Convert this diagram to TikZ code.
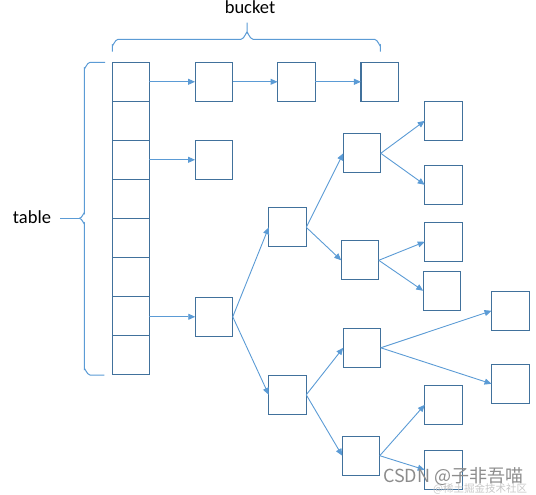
\documentclass[tikz,border=0pt]{standalone}
\usepackage{fontspec}
\setmainfont{Carlito}
\newfontfamily\cjkfont{Noto Sans CJK SC}
\usetikzlibrary{arrows.meta}
\definecolor{boxcol}{HTML}{41719C}
\definecolor{arrcol}{HTML}{5B9BD5}
\definecolor{wmcol}{HTML}{8C8C8C}
\definecolor{wmlight}{HTML}{C8C8C8}
\tikzset{
  bx/.style={draw=boxcol, line width=1.1pt, minimum width=37.5pt, minimum height=39pt, inner sep=0pt, outer sep=0pt},
  cell/.style={draw=boxcol, line width=1.1pt, minimum width=37pt, minimum height=39pt, inner sep=0pt, outer sep=0pt},
  arr/.style={draw=arrcol, line width=0.9pt, -{Triangle[length=7pt,width=6pt]}},
  brc/.style={draw=arrcol, line width=1pt},
  lbl/.style={font=\fontsize{18.5}{20}\selectfont, inner sep=0pt}
}
\begin{document}
\begin{tikzpicture}[x=1pt,y=-1pt]
\useasboundingbox (0,0) rectangle (536,495);
% table cells
\foreach \i in {1,...,8} {
  \node[cell] (T\i) at (130.8, {81.8+39*(\i-1)}) {};
}
% buckets
\node[bx] (R1a) at (213.8,81.8) {};
\node[bx] (R1b) at (296.3,81.8) {};
\node[bx] (R1c) at (379.7,81.8) {};
\node[bx] (R3) at (213.8,159.8) {};
\node[bx] (R7) at (214,316.8) {};
% tree
\node[bx] (A) at (287.5,227.3) {};
\node[bx] (F) at (287.5,394.8) {};
\node[bx] (B) at (362,153.3) {};
\node[bx] (C) at (360,260.3) {};
\node[bx] (G) at (362,347.8) {};
\node[bx] (H) at (361,455.7) {};
\node[bx] (D1) at (443.5,120.8) {};
\node[bx] (D2) at (443.5,184.8) {};
\node[bx] (D3) at (443.5,241.8) {};
\node[bx] (D4) at (442,290.8) {};
\node[bx] (E1) at (510.3,310.8) {};
\node[bx] (E2) at (510.3,383.8) {};
\node[bx] (H1) at (443.5,404.8) {};
\node[bx] (H2) at (443.5,469.8) {};
% arrows
\draw[arr] (T1.east) -- (R1a.west);
\draw[arr] (R1a.east) -- (R1b.west);
\draw[arr] (R1b.east) -- (R1c.west);
\draw[arr] (T3.east) -- (R3.west);
\draw[arr] (T7.east |- R7.west) -- (R7.west);
\draw[arr] (R7.east) -- (A.west);
\draw[arr] (R7.east) -- (F.west);
\draw[arr] (A.east) -- (B.west);
\draw[arr] (A.east) -- (C.west);
\draw[arr] (B.east) -- (D1.west);
\draw[arr] (B.east) -- (D2.west);
\draw[arr] (C.east) -- (D3.west);
\draw[arr] (C.east) -- (D4.west);
\draw[arr] (F.east) -- (G.west);
\draw[arr] (F.east) -- (H.west);
\draw[arr] (G.east) -- (E1.west);
\draw[arr] (G.east) -- (E2.west);
\draw[arr] (H.east) -- (H1.west);
\draw[arr] (H.east) -- (H2.west);
% bucket brace
\draw[brc] (112.3,51.7) -- (112.3,45) to[out=-90,in=180] (118,39.3) -- (241,39.3)
  to[out=0,in=90] (247,33) -- (247,22.7);
\draw[brc] (380.3,51.7) -- (380.3,45) to[out=-90,in=0] (374.6,39.3) -- (253,39.3)
  to[out=180,in=90] (247,33);
% table brace
\coordinate (tip) at (79.5,218.3);
\draw[brc] (105,62.3) -- (90,62.3) to[out=180,in=-90] (84.3,68) -- (84.3,213.5)
  to[out=90,in=0] (tip);
\draw[brc] (104.3,375) -- (90,375) to[out=180,in=90] (84.3,369.3) -- (84.3,223.1)
  to[out=-90,in=0] (tip);
% labels
\node[lbl, anchor=base] (bucket) at (250,13.3) {bucket};
\node[lbl, anchor=base] (table) at (32,223.3) {table};
\coordinate (tl) at (60,218.3);
\draw[brc] (tl) -- (tip);
% watermark
\node[anchor=base west, inner sep=0pt, text=wmcol, font=\cjkfont\fontsize{18}{20}\selectfont] (wm) at (383,482) {CSDN @子非吾喵};
\node[anchor=base west, inner sep=0pt, text=wmlight, font=\cjkfont\fontsize{10.5}{12}\selectfont] (wm2) at (433,492) {@稀土掘金技术社区};
\end{tikzpicture}
\end{document}
